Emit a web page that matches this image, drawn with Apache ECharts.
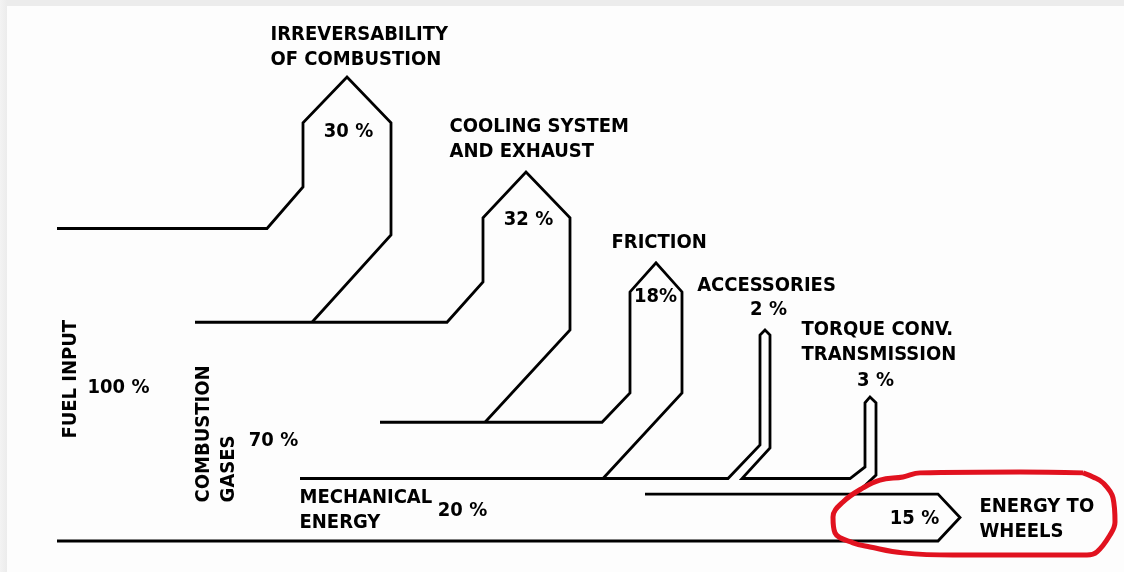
<!DOCTYPE html>
<html>
<head>
<meta charset="utf-8">
<script src="https://cdn.jsdelivr.net/npm/echarts@6/dist/echarts.min.js"></script>
<style>
html,body{margin:0;padding:0;background:#fdfdfd;}
#chart{width:1124px;height:572px;}
</style>
</head>
<body>
<div id="chart"></div>
<script>
// ---- data ----
const stageNames = ['FUEL INPUT', 'COMBUSTION\nGASES', 'MECHANICAL\nENERGY', 'ENERGY TO\nWHEELS'];
const stageValues = [100, 70, 20, 15];
const lossNames = ['IRREVERSABILITY\nOF COMBUSTION', 'COOLING SYSTEM\nAND EXHAUST', 'FRICTION', 'ACCESSORIES', 'TORQUE CONV.\nTRANSMISSION'];
const lossValues = [30, 32, 18, 2, 3];
const lossSep = [' ', ' ', '', ' ', ' '];

// remaining energy level after each loss (percent of fuel input)
const levels = [stageValues[0]];
lossValues.forEach((v, i) => levels.push(levels[i] - v));
// levels = [100, 70, 38, 20, 18, 15]

// ---- diagram geometry (x in px-like units, y in % energy level) ----
const L = levels;
const branchPaths = [
  [[57, L[0]], [267, L[0]], [303, 113.3], [303, 133.8], [347, 148.5], [391, 133.8], [391, 97.9], [312, L[1]]],
  [[195, L[1]], [447, L[1]], [483, 82.9], [483, 103.4], [526, 118.1], [570, 103.4], [570, 67.5], [485, L[2]]],
  [[380, L[2]], [602, L[2]], [630, 47.4], [630, 79.7], [656, 89.0], [682, 79.7], [682, 47.4], [603, L[3]]],
  [[300, L[3]], [728, L[3]], [760, 30.7], [760, 65.9], [765, 67.5], [770, 65.9], [770, 29.8], [742, L[3]],
   [850, L[3]], [865, 23.7], [865, 44.2], [870, 46.1], [876, 44.2], [876, 21.1], [856, L[5]]],
  [[645, L[5]], [938, L[5]], [960, L[5] / 2], [938, 0], [57, 0]]
];
const highlightOutline = [
  [1083, 21.8], [1020, 22.1], [920, 21.8], [903, 20.5], [880, 19.5], [863, 17], [843, 12.5], [833, 7.7],
  [835, 2.6], [853, -0.6], [870, -1.9], [903, -3.8], [953, -4.5], [1087, -4.5], [1097, -3.5], [1110, 1.9],
  [1115, 6.1], [1113, 13.8], [1103, 18.6], [1093, 20.5], [1083, 21.8]
];

// label anchor positions
const lossNamePos = [[271, 157.7, 'left'], [450, 128.4, 'left'], [612, 95.2, 'left'], [767, 81.4, 'center'], [802, 63.3, 'left']];
const lossPctPos = [[349, 130.8], [529, 102.6], [656, 77.9], [769, 73.7], [876, 51.0]];
const stageNamePos = [[71, 51.6, 'center', 90], [217, 12.2, 'left', 90], [300, 9.8, 'left', 0], [980, 6.9, 'left', 0]];
const stagePctPos = [[119, 49.0], [274, 32.0], [463, 9.6], [915, 7.05]];

// pick a condensed face if available
function hasFont(name) {
  const c = document.createElement('canvas').getContext('2d');
  const s = 'IRREVERSABILITY 0123456789';
  c.font = "bold 40px monospace"; const a = c.measureText(s).width;
  c.font = "bold 40px '" + name + "', monospace"; const b = c.measureText(s).width;
  return Math.abs(a - b) > 0.5;
}
let font, fsize;
if (hasFont('Liberation Sans Narrow')) { font = "'Liberation Sans Narrow'"; fsize = 23; }
else if (hasFont('DejaVu Sans Condensed')) { font = "'DejaVu Sans Condensed'"; fsize = 20; }
else { font = "'Liberation Sans', Arial, sans-serif"; fsize = 19; }

const textBase = { show: true, position: [0, 0], color: '#000000', fontFamily: font, fontWeight: 'bold', fontSize: fsize, lineHeight: 25, verticalAlign: 'middle', textBorderWidth: 0 };

const labels = [];
lossNames.forEach((n, i) => {
  labels.push({ value: [lossNamePos[i][0], lossNamePos[i][1]], label: Object.assign({}, textBase, { formatter: n, align: lossNamePos[i][2] }) });
  labels.push({ value: lossPctPos[i], label: Object.assign({}, textBase, { formatter: lossValues[i] + lossSep[i] + '%', align: 'center' }) });
});
stageNames.forEach((n, i) => {
  labels.push({ value: [stageNamePos[i][0], stageNamePos[i][1]], label: Object.assign({}, textBase, { formatter: n, align: stageNamePos[i][2], rotate: stageNamePos[i][3] }) });
  labels.push({ value: stagePctPos[i], label: Object.assign({}, textBase, { formatter: stageValues[i] + ' %', align: 'center' }) });
});

const series = branchPaths.map(p => ({
  type: 'line', data: p, symbol: 'none', silent: true,
  lineStyle: { color: '#000', width: 2.8, join: 'miter' }
}));
series.push({
  type: 'line', data: highlightOutline, symbol: 'none', smooth: 0.4, silent: true,
  lineStyle: { color: '#e1121f', width: 5 }
});
series.push({
  type: 'scatter', data: labels, symbolSize: 1, silent: true,
  itemStyle: { color: 'rgba(0,0,0,0)' },
  label: { show: true, color: '#000000', opacity: 1 }
});

const chart = echarts.init(document.getElementById('chart'), null, { renderer: 'canvas' });
chart.setOption({
  backgroundColor: '#fdfdfd',
  animation: false,
  textStyle: { color: '#000000' },
  grid: { left: 0, right: 0, top: 0, bottom: 0 },
  xAxis: { type: 'value', min: 0, max: 1124, show: false },
  yAxis: { type: 'value', min: -9.92, max: 173.12, show: false },
  graphic: [
    { type: 'rect', shape: { x: 0, y: 0, width: 1124, height: 6 }, style: { fill: '#ececec' }, silent: true },
    { type: 'rect', shape: { x: 0, y: 0, width: 7, height: 572 },
      style: { fill: { type: 'linear', x: 0, y: 0, x2: 1, y2: 0, colorStops: [{ offset: 0, color: '#f3f3f3' }, { offset: 1, color: '#ececec' }] } }, silent: true }
  ],
  series: series
});
</script>
</body>
</html>
